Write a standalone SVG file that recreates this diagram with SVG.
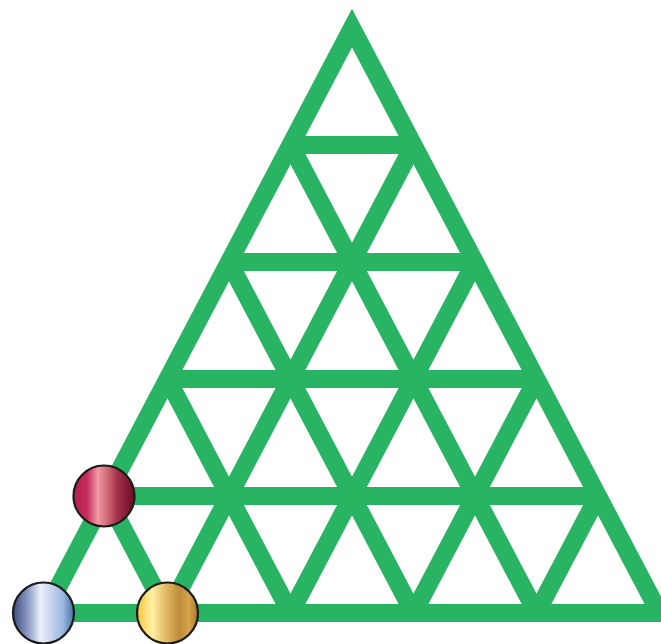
<svg xmlns="http://www.w3.org/2000/svg" width="661" height="644" viewBox="0 0 661 644">
<style>
.g{fill:none;stroke:#28b463;stroke-width:18;stroke-linejoin:miter;stroke-miterlimit:10}
.ball{stroke:#1a1a1a;stroke-width:2.2}
</style>
<defs>
<linearGradient id="gr" x1="0" y1="0" x2="1" y2="0">
<stop offset="0" stop-color="#b41e52"/>
<stop offset="0.22" stop-color="#c52a5a"/>
<stop offset="0.4" stop-color="#f49aa5"/>
<stop offset="0.55" stop-color="#d06c78"/>
<stop offset="0.72" stop-color="#a2304a"/>
<stop offset="1" stop-color="#6a0c26"/>
</linearGradient>
<linearGradient id="gb" x1="0" y1="0" x2="1" y2="0">
<stop offset="0" stop-color="#3a4a7c"/>
<stop offset="0.25" stop-color="#8e9cc6"/>
<stop offset="0.45" stop-color="#eaf0fa"/>
<stop offset="0.62" stop-color="#c6d6ee"/>
<stop offset="0.82" stop-color="#9ab6de"/>
<stop offset="1" stop-color="#4670a8"/>
</linearGradient>
<linearGradient id="gy" x1="0" y1="0" x2="1" y2="0">
<stop offset="0" stop-color="#f6c43c"/>
<stop offset="0.25" stop-color="#fff2a4"/>
<stop offset="0.45" stop-color="#e6be6c"/>
<stop offset="0.7" stop-color="#bc8c38"/>
<stop offset="0.85" stop-color="#d6a64e"/>
<stop offset="1" stop-color="#ab7424"/>
</linearGradient>
</defs>
<g id="connectors">
<path class="g" d="M352,28 L44.5,613 L659.5,613 Z"/>
<path class="g" d="M290.5,145 H413.5 M229,262 H475 M167.5,379 H536.5 M106,496 H598"/>
<path class="g" d="M167.5,613 L413.5,145 M290.5,613 L475,262 M413.5,613 L536.5,379 M536.5,613 L598,496"/>
<path class="g" d="M536.5,613 L290.5,145 M413.5,613 L229,262 M290.5,613 L167.5,379 M167.5,613 L106,496"/>
</g>
<g id="ball-red"><circle class="ball" cx="104" cy="496" r="30.5" fill="url(#gr)"/></g>
<g id="ball-blue"><circle class="ball" cx="43.5" cy="613" r="30.5" fill="url(#gb)"/></g>
<g id="ball-gold"><circle class="ball" cx="167.5" cy="613" r="30.5" fill="url(#gy)"/></g>
</svg>
